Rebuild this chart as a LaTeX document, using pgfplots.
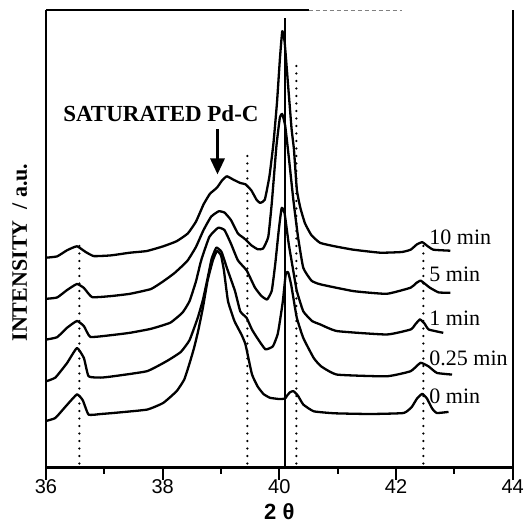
\documentclass[border=0pt]{standalone}
\usepackage{fontspec}
\setmainfont{Liberation Serif}
\setsansfont{Liberation Sans}
\usepackage{pgfplots}
\pgfplotsset{compat=1.18}
\usetikzlibrary{arrows.meta}

\begin{document}
\begin{tikzpicture}
\useasboundingbox (-46pt,-60.5pt) rectangle (479pt,467.5pt);
\begin{axis}[
    at={(0pt,0pt)}, anchor=south west,
    scale only axis,
    width=466.7pt, height=457.5pt,
    xmin=36, xmax=44, ymin=0, ymax=457.5,
    axis x line=bottom, axis y line=box,
    axis line style={-, line width=2.4pt},
    xtick={36,38,40,42,44},
    minor xtick={37,39,41,43},
    ytick=\empty,
    xtick align=outside,
    major tick length=12pt, minor tick length=6pt,
    tick style={line width=1.8pt, black},
    /pgf/number format/assume math mode=true,
    xticklabel style={font=\sffamily\fontsize{20}{24}\selectfont, yshift=3pt},
    xlabel={2 θ},
    xlabel style={font=\sffamily\bfseries\fontsize{22}{26}\selectfont, inner sep=1pt, yshift=-5pt},
    clip=false,
    every axis plot/.append style={black, line width=2.3pt, line join=round},
]
% 10 min
\addplot[smooth, tension=0.25] coordinates {
(36.00,209.8) (36.19,211.1) (36.36,217.2) (36.53,221.2) (36.68,215.5) (36.82,211.4)
(37.11,212.1) (37.44,214.8) (37.73,216.5) (38.01,221.2) (38.24,226.3) (38.43,234.0)
(38.57,245.8) (38.70,263.0) (38.81,273.7) (38.93,279.8) (39.02,287.2) (39.10,291.2)
(39.21,287.9) (39.33,284.5) (39.42,283.2) (39.52,277.1) (39.61,267.7) (39.67,264.6)
(39.75,267.7) (39.83,291.2) (39.90,324.9) (39.96,365.3) (40.01,409.1) (40.05,436.4)
(40.09,425.9) (40.15,382.2) (40.21,338.4) (40.25,318.2) (40.30,277.8) (40.36,259.6)
(40.44,244.1) (40.55,232.3) (40.70,224.6) (40.95,221.2) (41.27,217.8) (41.73,214.8)
(42.10,215.5) (42.25,217.8) (42.36,223.2) (42.45,225.3) (42.53,221.9) (42.64,217.8)
(42.93,216.8)
};
% 5 min
\addplot[smooth, tension=0.25] coordinates {
(36.00,168.7) (36.19,170.0) (36.36,177.4) (36.53,183.5) (36.65,179.5) (36.79,170.4)
(37.11,171.4) (37.44,173.7) (37.80,178.5) (38.01,186.2) (38.20,194.3) (38.42,206.4)
(38.57,220.5) (38.70,237.4) (38.83,250.8) (38.96,256.2) (39.06,254.9) (39.17,247.5)
(39.29,234.0) (39.40,229.0) (39.52,222.2) (39.63,218.2) (39.72,218.9) (39.81,230.6)
(39.87,264.3) (39.95,321.5) (40.01,350.2) (40.05,353.5) (40.10,341.8) (40.16,311.4)
(40.24,267.7) (40.32,230.6) (40.41,199.7) (40.55,186.9) (40.70,183.2) (41.27,176.4)
(41.84,173.7) (42.25,179.8) (42.34,184.2) (42.42,186.9) (42.50,183.5) (42.58,179.8)
(42.73,175.1) (42.93,174.7)
};
% 1 min
\addplot[smooth, tension=0.25] coordinates {
(36.00,127.9) (36.19,130.3) (36.36,139.7) (36.53,146.5) (36.65,141.4) (36.76,130.6)
(37.11,132.3) (37.44,134.7) (37.80,138.7) (38.13,144.8) (38.34,154.9) (38.46,166.3)
(38.57,186.0) (38.66,207.1) (38.80,230.6) (38.95,239.7) (39.06,237.4) (39.17,223.9)
(39.29,207.1) (39.44,197.0) (39.58,180.1) (39.69,171.7) (39.79,168.0) (39.87,176.8)
(39.93,203.7) (39.99,237.4) (40.04,259.6) (40.09,254.2) (40.16,223.9) (40.24,196.3)
(40.30,176.4) (40.41,156.2) (40.56,146.5) (40.70,143.1) (40.99,136.4) (41.84,133.0)
(42.25,138.0) (42.33,143.1) (42.41,148.1) (42.49,143.8) (42.56,138.0) (42.81,134.7)
};
% 0.25 min
\addplot[smooth, tension=0.25] coordinates {
(36.00,86.2) (36.16,89.9) (36.36,104.4) (36.53,119.5) (36.65,109.4) (36.73,91.2)
(36.94,89.9) (37.15,91.2) (37.73,96.3) (38.07,106.4) (38.31,115.5) (38.46,127.3)
(38.60,149.5) (38.69,167.7) (38.77,189.2) (38.84,208.8) (38.92,219.9) (39.01,215.5)
(39.10,199.7) (39.24,176.4) (39.33,156.2) (39.44,149.5) (39.53,138.0) (39.62,129.6)
(39.76,118.2) (39.89,121.2) (39.97,133.0) (40.01,146.5) (40.06,166.3) (40.11,193.6)
(40.15,195.3) (40.20,183.5) (40.24,169.7) (40.30,149.5) (40.41,129.6) (40.59,109.4)
(40.72,101.0) (40.99,92.9) (41.84,91.2) (42.25,96.3) (42.42,104.7) (42.56,101.0)
(42.70,94.6) (42.96,92.9)
};
% 0 min
\addplot[smooth, tension=0.25] coordinates {
(36.00,46.5) (36.16,49.5) (36.33,60.6) (36.53,73.1) (36.63,67.3) (36.73,52.9)
(36.94,53.5) (37.15,54.5) (37.73,57.9) (38.01,64.6) (38.24,76.4) (38.37,88.0)
(38.46,104.0) (38.54,120.0) (38.61,137.0) (38.69,160.0) (38.77,186.9) (38.86,207.1)
(38.93,216.5) (39.00,212.1) (39.05,197.0) (39.12,166.3) (39.23,146.5) (39.35,133.0)
(39.42,122.9) (39.53,93.3) (39.63,80.8) (39.73,73.4) (39.84,69.7) (40.01,68.4)
(40.10,69.0) (40.13,71.7) (40.18,75.1) (40.24,76.4) (40.32,71.7) (40.41,63.0)
(40.59,56.2) (40.95,54.2) (41.56,53.5) (42.13,54.5) (42.27,60.6) (42.36,69.0)
(42.45,73.7) (42.53,69.0) (42.62,58.9) (42.70,54.5) (42.90,55.6)
};
% reference lines
\addplot[line width=2.5pt, line cap=round, dash pattern=on 0pt off 7.5pt] coordinates {(36.57,4) (36.57,227)};
\addplot[line width=2.5pt, line cap=round, dash pattern=on 0pt off 7.5pt] coordinates {(39.45,4) (39.45,319)};
\addplot[line width=2.5pt, line cap=round, dash pattern=on 0pt off 7.5pt] coordinates {(40.29,4) (40.29,407)};
\addplot[line width=2.5pt, line cap=round, dash pattern=on 0pt off 7.5pt] coordinates {(42.47,4) (42.47,226)};
\addplot[line width=2pt] coordinates {(40.09,0) (40.09,449)};

% partial top frame
\draw[line width=1.6pt] (axis cs:36,457.5) -- (axis cs:40.5,457.5);
\draw[line width=0.8pt, gray, dash pattern=on 4pt off 3pt] (axis cs:40.5,457) -- (axis cs:42.1,457);

\draw[line width=3pt, -{Triangle[length=16pt,width=14pt]}] (axis cs:38.94,338) -- (axis cs:38.94,293);
\node[font=\bfseries\fontsize{23}{26}\selectfont] at (axis cs:37.97,354) {SATURATED Pd-C};

\node[rotate=90, font=\bfseries\fontsize{22}{26}\selectfont] at (axis cs:35.55,215) {INTENSITY~~/ a.u.};

\node[anchor=base west, font=\fontsize{22}{24}\selectfont, inner sep=0pt] at (axis cs:42.57,222.5) {10 min};
\node[anchor=base west, font=\fontsize{22}{24}\selectfont, inner sep=0pt] at (axis cs:42.57,185.8) {5 min};
\node[anchor=base west, font=\fontsize{22}{24}\selectfont, inner sep=0pt] at (axis cs:42.57,142.5) {1 min};
\node[anchor=base west, font=\fontsize{22}{24}\selectfont, inner sep=0pt] at (axis cs:42.57,102.5) {0.25 min};
\node[anchor=base west, font=\fontsize{22}{24}\selectfont, inner sep=0pt] at (axis cs:42.57,64.2) {0 min};
\end{axis}
\end{tikzpicture}
\end{document}
